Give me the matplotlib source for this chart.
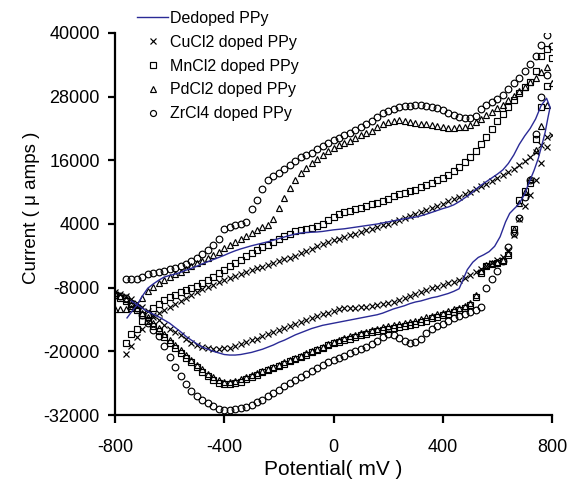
import numpy as np
import matplotlib
matplotlib.use("Agg")
import matplotlib.pyplot as plt

plt.rcParams['font.family'] = ['Liberation Sans', 'DejaVu Sans']

# Potential sweep (mV) shared by the doped samples, ascending order
sweep_mv = [
    -800, -780, -760, -740, -720, -700, -680, -660, -640, -620,
    -600, -580, -560, -540, -520, -500, -480, -460, -440, -420,
    -400, -380, -360, -340, -320, -300, -280, -260, -240, -220,
    -200, -180, -160, -140, -120, -100, -80, -60, -40, -20,
    0, 20, 40, 60, 80, 100, 120, 140, 160, 180,
    200, 220, 240, 260, 280, 300, 320, 340, 360, 380,
    400, 420, 440, 460, 480, 500, 520, 540, 560, 580,
    600, 620, 640, 660, 680, 700, 720, 740, 760, 780,
    800,
]

# Currents (uA): forward (anodic) and reverse (cathodic) sweeps, listed by ascending potential
cucl2_fwd = [
    None, None, -20500, -19000, -17300, -15700, -14500, -13600, -12800, -12200,
    -11700, -11100, -10500, -10000, -9400, -8850, -8300, -7850, -7450, -7000,
    -6600, -6240, -5860, -5490, -5110, -4740, -4360, -4020, -3690, -3350,
    -3020, -2690, -2350, -1950, -1520, -1080, -650, -210, 220, 590,
    900, 1210, 1520, 1850, 2180, 2500, 2830, 3140, 3450, 3760,
    4070, 4380, 4690, 5060, 5430, 5810, 6180, 6560, 6930, 7360,
    7820, 8270, 8730, 9180, 9640, 10120, 10620, 11120, 11620, 12120,
    12610, 13170, 13790, 14410, 15030, 15790, 16580, 17580, 18830, 20400,
    None,
]
cucl2_rev = [
    -8900, -9200, -9600, -10100, -10900, -11700, -12400, -13200, -14100, -15000,
    -15700, -16300, -17000, -17700, -18400, -18900, -19250, -19450, -19550, -19500,
    -19400, -19300, -19000, -18700, -18300, -17900, -17600, -17200, -16800, -16400,
    -16000, -15600, -15200, -14800, -14500, -14100, -13700, -13300, -13000, -12700,
    -12400, -12100, -11850, -11800, -11750, -11700, -11600, -11500, -11300, -11100,
    -10900, -10700, -10400, -10000, -9600, -9200, -8900, -8500, -8100, -7800,
    -7500, -7200, -6900, -6600, -6100, -5600, -5000, -4500, -3900, -3300,
    -2800, -2200, -900, 2000, 4900, 7400, 9500, 12300, 15500, 18500,
    20800,
]

mncl2_fwd = [
    None, None, -18400, -16800, -15800, -14200, -12900, -11900, -11100, -10400,
    -9800, -9300, -8900, -8400, -8000, -7600, -7100, -6500, -5900, -5300,
    -4600, -4000, -3300, -2700, -2100, -1500, -900, -400, 100, 700,
    1200, 1700, 2200, 2600, 2900, 3100, 3300, 3600, 4000, 4700,
    5300, 5800, 6200, 6500, 6800, 7100, 7400, 7700, 8000, 8400,
    8800, 9200, 9600, 9900, 10200, 10500, 10900, 11300, 11700, 12200,
    12700, 13300, 14000, 14800, 15700, 16700, 17800, 19000, 20400, 21900,
    23400, 24800, 26100, 27400, 28700, 29800, 30800, 32800, 35600, 37000,
    None,
]
mncl2_rev = [
    -9300, -9900, -10600, -11400, -12300, -13200, -14200, -15200, -16200, -17300,
    -18400, -19400, -20400, -21300, -22100, -23000, -23900, -24700, -25400, -25900,
    -26200, -26200, -26000, -25700, -25300, -24900, -24400, -23900, -23500, -23100,
    -22700, -22300, -21900, -21500, -21000, -20600, -20100, -19700, -19300, -18900,
    -18500, -18200, -17900, -17600, -17300, -17000, -16700, -16400, -16200, -16000,
    -15800, -15600, -15400, -15200, -15000, -14800, -14500, -14200, -13800, -13500,
    -13200, -12900, -12600, -12300, -11900, -11300, -9800, -5200, -4000, -3500,
    -3300, -3000, -1800, 3000, 8500, 10300, 11700, 20000, 26000, 30000,
    35300,
]

pdcl2_fwd = [
    -12000, -12000, -12000, -11900, -11200, -10000, -8700, -7800, -7100, -6500,
    -6000, -5500, -5000, -4500, -4000, -3400, -2900, -2400, -1900, -1200,
    -500, 100, 700, 1200, 1700, 2300, 2900, 3500, 3900, 5000,
    7000, 8900, 10800, 12300, 13700, 14600, 15500, 16300, 17000, 17700,
    18300, 18800, 19200, 19700, 20200, 20700, 21100, 21600, 22200, 22800,
    23200, 23500, 23600, 23500, 23300, 23100, 22900, 22800, 22600, 22400,
    22200, 22100, 22100, 22200, 22300, 22700, 23200, 23800, 24500, 25200,
    25800, 26500, 27300, 28200, 29100, 29900, 30700, 31500, 32600, 33500,
    None,
]
pdcl2_rev = [
    -9000, -9600, -10200, -11000, -11800, -12700, -13600, -14600, -15600, -16700,
    -17800, -18800, -19800, -20700, -21600, -22500, -23400, -24200, -24900, -25400,
    -25700, -25700, -25500, -25200, -24900, -24500, -24100, -23700, -23300, -22900,
    -22500, -22100, -21700, -21300, -20800, -20400, -19900, -19500, -19100, -18700,
    -18300, -17900, -17500, -17200, -16900, -16600, -16300, -16000, -15700, -15500,
    -15300, -15100, -14900, -14700, -14500, -14200, -13900, -13600, -13300, -13000,
    -12700, -12400, -12100, -11800, -11500, -10900, -9300, -4800, -3800, -3400,
    -3200, -2800, -1500, 3000, 8000, 10000, 12500, 18000, 22500, 26500,
    30500,
]

zrcl4_fwd = [
    None, None, -6400, -6400, -6300, -5900, -5500, -5200, -5000, -4800,
    -4500, -4200, -3900, -3500, -3000, -2400, -1700, -900, 0, 1200,
    3000, 3500, 3800, 4000, 4300, 6800, 8600, 10600, 12300, 13000,
    13700, 14400, 15200, 15900, 16600, 17000, 17400, 18100, 18700, 19300,
    19800, 20300, 20700, 21100, 21700, 22300, 22900, 23500, 24200, 24900,
    25300, 25700, 26000, 26200, 26300, 26400, 26400, 26300, 26100, 25800,
    25400, 25000, 24600, 24200, 24000, 24000, 24300, 25600, 26400, 27000,
    27600, 28400, 29500, 30500, 31600, 32800, 34100, 35700, 37700, 39700,
    None,
]
zrcl4_rev = [
    -9300, -9600, -10000, -10800, -11900, -13200, -14600, -15900, -17200, -19000,
    -21000, -22900, -24600, -26200, -27500, -28400, -29100, -29800, -30300, -30800,
    -31000, -31000, -30900, -30700, -30500, -30100, -29600, -29100, -28500, -27900,
    -27200, -26600, -26000, -25400, -24800, -24300, -23700, -23100, -22600, -22100,
    -21600, -21200, -20800, -20400, -20000, -19600, -19100, -18600, -18100, -17300,
    -16700, -16900, -17500, -18100, -18400, -18300, -17600, -16600, -15700, -15200,
    -14800, -14200, -13800, -13300, -12900, -12600, -12200, -11600, -8100, -6300,
    -4800, -3000, -300, 2300, 5200, 9000, 12300, 21000, 28000, 32000,
    37500,
]

# Dedoped film drawn as one continuous loop: forward sweep, vertex, reverse sweep
dedoped_mv = [
    -756, -740, -720, -700, -680, -660, -640, -620, -600, -580,
    -560, -540, -520, -500, -480, -460, -440, -420, -400, -380,
    -360, -340, -320, -300, -280, -260, -240, -220, -200, -180,
    -160, -140, -120, -100, -80, -60, -40, -20, 0, 20,
    40, 60, 80, 100, 120, 140, 160, 180, 200, 220,
    240, 260, 280, 300, 320, 340, 360, 380, 400, 420,
    440, 460, 480, 500, 520, 540, 560, 580, 600, 620,
    640, 660, 680, 700, 720, 740, 760, 780,
    793, 785, 775, 765, 750, 735, 720, 700, 680, 660,
    645, 630, 610, 590, 570, 550, 530, 510, 490, 475,
    460, 440, 420, 400, 380, 360, 340, 320, 300, 280,
    260, 240, 220, 200, 180, 160, 140, 120, 100, 80,
    60, 40, 20, 0, -20, -40, -60, -80, -100, -120,
    -140, -160, -180, -200, -220, -240, -260, -280, -300, -320,
    -340, -360, -380, -400, -420, -440, -460, -480, -500, -520,
    -540, -560, -580, -600, -620, -640, -660, -680, -700, -720,
    -740,
]
dedoped_ua = [
    -13700, -12600, -11300, -9600, -8100, -7300, -6600, -6000, -5700, -5450,
    -5100, -4700, -4350, -3950, -3500, -3100, -2700, -2300, -1900, -1450,
    -1050, -700, -400, -100, 150, 400, 650, 950, 1250, 1550,
    1850, 2100, 2300, 2400, 2450, 2500, 2600, 2750, 2900, 3000,
    3100, 3250, 3400, 3550, 3700, 3850, 4000, 4200, 4400, 4600,
    4800, 5000, 5150, 5300, 5550, 5850, 6200, 6550, 6900, 7200,
    7600, 8200, 8900, 9600, 10500, 11300, 12000, 12700, 13400, 14200,
    15400, 17000, 19000, 20600, 22000, 23800, 26300, 27700,
    26000, 24000, 21300, 19300, 16400, 14200, 12300, 9700, 7800, 6800,
    6000, 4400, 1600, -200, -1200, -1800, -2300, -3200, -4600, -6400,
    -8200, -8700, -9100, -9400, -9700, -9900, -10200, -10500, -10700, -11000,
    -11400, -11700, -12000, -12400, -12800, -13100, -13300, -13500, -13700, -13900,
    -14100, -14300, -14500, -14700, -14900, -15100, -15400, -15700, -16100, -16500,
    -16900, -17400, -17900, -18300, -18800, -19200, -19600, -19900, -20200, -20400,
    -20600, -20700, -20700, -20600, -20300, -20000, -19600, -19200, -18600, -17900,
    -17200, -16300, -15500, -14700, -14100, -13500, -13000, -12500, -11900, -11200,
    -10500,
]

labels = ['Dedoped PPy', 'CuCl2 doped PPy', 'MnCl2 doped PPy',
          'PdCl2 doped PPy', 'ZrCl4 doped PPy']
x_ticks = [-800, -400, 0, 400, 800]
y_ticks = [-32000, -20000, -8000, 4000, 16000, 28000, 40000]


def arr(v):
    return np.array([np.nan if a is None else a for a in v], dtype=float)


fig = plt.figure(figsize=(5.68, 4.9), dpi=100)
ax = fig.add_axes([115 / 568, 75 / 490, 437 / 568, 382 / 490])

mv = np.array(sweep_mv, dtype=float)
line_handle, = ax.plot(dedoped_mv, dedoped_ua, color='#2a2a96', lw=1.0,
                       label=labels[0], zorder=3)

marker_style = dict(linestyle='none', color='black', markerfacecolor='none',
                    markersize=4.8, markeredgewidth=0.85, zorder=2)
handles = [line_handle]
series = [
    (cucl2_fwd, cucl2_rev, 'x', labels[1]),
    (mncl2_fwd, mncl2_rev, 's', labels[2]),
    (pdcl2_fwd, pdcl2_rev, '^', labels[3]),
    (zrcl4_fwd, zrcl4_rev, 'o', labels[4]),
]
for fwd, rev, mk, lab in series:
    h, = ax.plot(mv, arr(fwd), marker=mk, label=lab, **marker_style)
    ax.plot(mv, arr(rev), marker=mk, **marker_style)
    handles.append(h)

ax.set_xlim(-800, 800)
ax.set_ylim(-32000, 40000)
ax.set_xticks(x_ticks)
ax.set_yticks(y_ticks)
ax.set_xticklabels([str(t) for t in x_ticks])
ax.set_yticklabels([str(t) for t in y_ticks])

for side in ('top', 'right'):
    ax.spines[side].set_visible(False)
for side in ('left', 'bottom'):
    ax.spines[side].set_linewidth(1.6)
ax.tick_params(axis='both', direction='out', width=1.6, labelsize=13)
ax.tick_params(axis='y', length=5, pad=6)
ax.tick_params(axis='x', length=6, pad=11)

ax.set_xlabel('Potential( mV )', fontsize=15, labelpad=3)
ax.set_ylabel('Current ( μ amps )', fontsize=13.5)
ax.yaxis.set_label_coords(-0.171, 0.542)

leg = ax.legend(handles=handles, labels=labels, loc='upper left',
                bbox_to_anchor=(137 / 568, 1 - 11 / 490),
                bbox_transform=fig.transFigure, frameon=False,
                fontsize=11.5, handlelength=1.95, handletextpad=0.12,
                labelspacing=0.55, borderpad=0, borderaxespad=0,
                markerscale=0.9)

fig.savefig('out.png', dpi=100)
